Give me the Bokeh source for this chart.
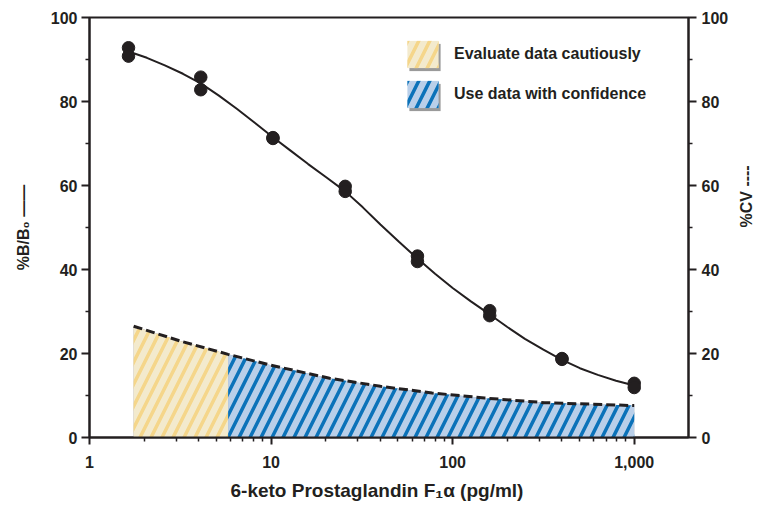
from bokeh.plotting import figure
from bokeh.models import (Range1d, LinearAxis, FixedTicker, Legend, LegendItem,
                          Title)
from bokeh.embed import file_html
from bokeh.resources import INLINE
import math

# ---------------- data ----------------
conc = [1.64, 1.64, 4.1, 4.1, 10.24, 10.24, 25.6, 25.6, 64, 64,
        160, 160, 400, 400, 1000, 1000]
bb0 = [92.8, 90.8, 85.8, 82.8, 71.4, 71.2, 59.8, 58.6, 43.2, 41.9,
       30.2, 29.0, 18.8, 18.6, 12.9, 11.9]

curve_x = [1.64, 2.07, 2.6, 3.27, 4.1, 5.16, 6.5, 8.16, 10.24, 12.8, 16,
           20.2, 25.6, 32, 40, 50.6, 64, 80, 100, 126, 160, 200, 250,
           316, 400, 502, 630, 794, 1000]
curve_y = [91.9, 90.4, 88.6, 86.6, 84.3, 81.4, 78.2, 74.9, 71.5, 68.3,
           65.1, 61.9, 58.6, 54.8, 50.7, 46.6, 42.6, 39.0, 35.6, 32.4,
           29.3, 26.3, 23.5, 20.9, 18.5, 16.5, 14.9, 13.5, 12.4]

cv_x = [1.75, 3.2, 5.8, 10, 21, 40, 77, 150, 320, 1000]
cv_y = [26.5, 22.9, 19.8, 17.2, 14.1, 12.2, 10.6, 9.4, 8.3, 7.6]
caution_limit = 5.8

x_ticks = [1, 10, 100, 1000]
x_tick_labels = ["1", "10", "100", "1,000"]
y_ticks = [0, 20, 40, 60, 80, 100]
y_minor = [10, 30, 50, 70, 90]
legend_labels = ["Evaluate data cautiously", "Use data with confidence"]
x_title = "6-keto Prostaglandin F\u2081\u03b1 (pg/ml)"
y_title = "%B/B\u2080 \u2014\u2014"
y2_title = "%CV ----"

# ---------------- styling ----------------
DARK = "#231f20"
FONT = "Liberation Sans"
YEL_BG, YEL_HATCH = "#f3eacd", "#f5d68a"
BLU_BG, BLU_HATCH = "#b9cfe9", "#0b72b9"
SHADOW = "#9a9a9a"

p = figure(width=766, height=509, x_axis_type="log",
           x_range=Range1d(1, 1990), y_range=Range1d(0, 100),
           output_backend="svg", toolbar_location=None,
           min_border_left=89, min_border_right=75,
           min_border_top=17, min_border_bottom=72)
p.extra_y_ranges = {"cv": Range1d(0, 100)}
p.xgrid.visible = False
p.ygrid.visible = False
p.outline_line_color = DARK
p.outline_line_width = 2
p.background_fill_color = "white"
p.border_fill_color = "white"

# CV hatched regions
yx = [x for x in cv_x if x <= caution_limit]
yy = [y for x, y in zip(cv_x, cv_y) if x <= caution_limit]
bx = [x for x in cv_x if x >= caution_limit]
by = [y for x, y in zip(cv_x, cv_y) if x >= caution_limit]

# grey copies (hidden under the hatched areas) used as legend-box shadows
sh1 = p.varea(x=yx, y1=[0] * len(yx), y2=yy, y_range_name="cv",
              fill_color=SHADOW)
sh2 = p.varea(x=bx, y1=[0] * len(bx), y2=by, y_range_name="cv",
              fill_color=SHADOW)

r_yel = p.varea(x=yx, y1=[0] * len(yx), y2=yy, y_range_name="cv",
                fill_color=YEL_BG, hatch_pattern="/", hatch_color=YEL_HATCH,
                hatch_scale=22, hatch_weight=3.5)
r_blu = p.varea(x=bx, y1=[0] * len(bx), y2=by, y_range_name="cv",
                fill_color=BLU_BG, hatch_pattern="/", hatch_color=BLU_HATCH,
                hatch_scale=22, hatch_weight=3.5)

p.line(cv_x, cv_y, y_range_name="cv", line_color=DARK, line_width=3,
       line_dash="9 4")
p.line(curve_x, curve_y, line_color=DARK, line_width=2)
p.scatter(conc, bb0, size=12.5, fill_color=DARK, line_color=DARK)

# axes
def style_axis(ax):
    ax.axis_line_color = DARK
    ax.axis_line_width = 2
    ax.major_tick_line_color = DARK
    ax.major_tick_line_width = 2
    ax.minor_tick_line_color = DARK
    ax.minor_tick_line_width = 1.5
    ax.major_tick_in = 0
    ax.major_tick_out = 8
    ax.minor_tick_in = 0
    ax.minor_tick_out = 4
    ax.major_label_text_font = FONT
    ax.major_label_text_font_style = "bold"
    ax.major_label_text_font_size = "16px"
    ax.major_label_text_color = DARK
    ax.axis_label_text_font = FONT
    ax.axis_label_text_font_style = "bold"
    ax.axis_label_text_color = DARK
    ax.axis_label_text_font_size = "16px"

xa = p.xaxis[0]
xa.ticker = FixedTicker(ticks=x_ticks,
                        minor_ticks=[m * 10 ** k for k in range(3) for m in range(2, 10)])
xa.major_label_overrides = {t: l for t, l in zip(x_ticks, x_tick_labels)}
style_axis(xa)
xa.major_tick_out = 7
xa.major_label_standoff = 11

ya = p.yaxis[0]
ya.ticker = FixedTicker(ticks=y_ticks, minor_ticks=y_minor)
style_axis(ya)
ya.major_label_standoff = 4
ya.axis_label = y_title
ya.axis_label_standoff = 16

ra = LinearAxis(y_range_name="cv", ticker=FixedTicker(ticks=y_ticks, minor_ticks=y_minor))
style_axis(ra)
ra.major_label_standoff = 5
ra.axis_label = y2_title
ra.axis_label_standoff = 15
ra.axis_label_orientation = math.pi / 2   # reads bottom-to-top like the reference
p.add_layout(ra, "right")

# x title (below the axis), placed like the reference
xt = Title(text=x_title, align="left", offset=141, standoff=14,
           text_font=FONT, text_font_style="bold", text_font_size="19px",
           text_color=DARK)
p.add_layout(xt, "below")

# legend (shadow + main); legend glyphs are drawn at 80% of the glyph box
def make_legend(items, loc):
    return Legend(items=items, location=loc, orientation="vertical",
                  glyph_width=39, glyph_height=34, label_height=34,
                  spacing=6, label_standoff=12, padding=0, margin=0,
                  border_line_alpha=0, background_fill_alpha=0,
                  label_text_font=FONT, label_text_font_style="bold",
                  label_text_font_size="16px", label_text_color=DARK)

shadow = make_legend([LegendItem(label=" ", renderers=[sh1]),
                      LegendItem(label=" ", renderers=[sh2])], (316, 323))
main_leg = make_legend([LegendItem(label=legend_labels[0], renderers=[r_yel]),
                        LegendItem(label=legend_labels[1], renderers=[r_blu])],
                       (314, 326))
p.add_layout(shadow)
p.add_layout(main_leg)

open("out.html", "w").write(file_html(p, INLINE))
